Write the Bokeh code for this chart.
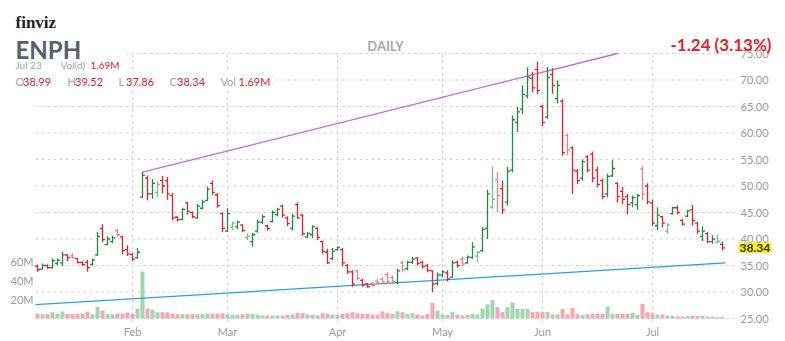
from bokeh.plotting import figure
from bokeh.models import Range1d, ColumnDataSource
from bokeh.embed import file_html
from bokeh.resources import INLINE
from bokeh.core.properties import value

# ---------------- data ----------------
opens = [34.9, 34.3, 35.0, 34.6, 35.4, 35.5, 37.0, 36.8, 36.3, 35.6,
         35.6, 35.2, 37.0, 42.0, 39.0, 39.5, 41.6, 40.4, 38.0, 37.1,
         36.5, 47.9, 51.5, 48.5, 48.8, 51.0, 51.0, 48.2, 44.1, 43.7,
         46.8, 45.0, 44.0, 45.8, 47.3, 50.5, 48.3, 44.8, 41.5, 42.2,
         42.3, 42.6, 40.3, 39.5, 41.5, 43.2, 42.5, 43.3, 44.6, 46.2,
         44.0, 42.0, 46.5, 44.5, 40.4, 40.8, 42.0, 39.5, 37.5, 36.3,
         38.0, 38.0, 35.0, 33.8, 34.0, 32.2, 31.5, 31.6, 32.0, 32.4,
         33.3, 32.8, 31.8, 35.5, 34.4, 35.6, 36.4, 35.6, 35.0, 34.0,
         31.6, 33.2, 33.6, 32.8, 35.6, 36.2, 35.5, 36.5, 36.8, 37.8,
         42.0, 46.0, 51.2, 49.5, 47.0, 53.0, 62.0, 64.5, 67.0, 70.3,
         72.0, 65.0, 63.0, 71.0, 66.5, 66.0, 59.5, 57.2, 52.8, 51.5,
         55.5, 56.0, 53.0, 51.0, 48.5, 51.9, 50.5, 49.0, 48.0, 46.8,
         46.5, 53.2, 50.0, 46.8, 42.5, 44.2, 41.5, 44.8, 45.9, 43.5,
         44.3, 45.5, 43.0, 40.5, 41.0, 39.5, 39.4, 38.99]
highs = [35.2, 35.4, 35.2, 36.3, 36.3, 37.6, 37.1, 37.3, 36.4, 35.8,
         36.1, 36.3, 41.3, 42.8, 40.5, 40.6, 41.9, 40.6, 38.8, 37.4,
         38.3, 52.7, 52.0, 51.3, 50.9, 51.9, 51.7, 48.7, 44.3, 45.9,
         47.0, 45.2, 46.6, 47.4, 49.9, 51.0, 48.7, 45.0, 45.8, 43.3,
         43.5, 42.8, 41.1, 41.2, 43.7, 44.6, 42.7, 45.4, 45.9, 46.5,
         44.3, 44.8, 46.9, 44.7, 41.3, 42.6, 42.2, 39.7, 38.1, 38.3,
         38.6, 38.3, 35.3, 34.1, 34.1, 32.5, 31.7, 31.9, 32.5, 32.8,
         33.7, 33.1, 34.4, 35.9, 35.9, 36.6, 36.6, 35.9, 35.3, 34.1,
         33.7, 34.1, 34.1, 36.0, 35.9, 36.6, 36.9, 39.4, 37.8, 42.2,
         49.3, 53.7, 52.6, 51.0, 53.6, 63.3, 64.9, 69.0, 72.4, 71.5,
         73.5, 65.3, 72.4, 72.2, 69.9, 66.4, 59.9, 57.5, 53.2, 55.0,
         55.8, 56.5, 53.7, 51.4, 52.3, 54.9, 50.7, 49.8, 48.5, 48.2,
         48.5, 53.7, 50.5, 47.4, 46.0, 44.4, 43.0, 46.1, 46.3, 43.8,
         45.5, 46.4, 43.2, 42.4, 41.3, 40.7, 40.8, 39.52]
lows = [33.8, 34.2, 34.4, 34.4, 35.0, 34.9, 35.8, 36.3, 35.4, 34.9,
        33.8, 35.0, 36.8, 39.4, 38.8, 39.2, 40.4, 37.1, 36.8, 35.8,
        36.3, 47.8, 47.3, 47.6, 47.9, 48.6, 47.4, 43.5, 43.3, 43.5,
        44.6, 43.9, 43.8, 45.6, 47.1, 48.3, 45.9, 41.3, 41.3, 41.7,
        41.9, 41.3, 39.8, 38.6, 41.2, 42.8, 41.6, 43.1, 44.3, 44.0,
        42.4, 41.6, 43.8, 40.6, 40.2, 40.2, 39.8, 37.2, 35.3, 36.0,
        37.8, 34.8, 33.4, 31.0, 32.2, 31.0, 30.8, 31.0, 31.5, 31.5,
        31.5, 31.6, 31.5, 33.7, 34.1, 35.3, 35.0, 34.4, 33.7, 30.0,
        31.2, 32.8, 32.0, 32.7, 34.6, 34.8, 35.3, 36.3, 35.6, 37.5,
        40.0, 45.7, 45.1, 44.7, 46.3, 52.6, 60.2, 63.6, 66.5, 67.7,
        67.4, 61.3, 62.7, 67.4, 65.6, 55.7, 55.8, 48.5, 50.4, 51.0,
        52.6, 50.7, 49.8, 47.6, 47.9, 51.7, 46.9, 46.6, 44.6, 46.0,
        45.5, 47.3, 46.6, 42.4, 41.7, 42.2, 41.0, 44.6, 44.6, 42.5,
        44.1, 42.5, 41.0, 39.6, 39.2, 39.1, 39.2, 37.86]
closes = [34.2, 35.0, 34.6, 35.9, 36.0, 37.0, 36.5, 36.5, 35.6, 35.2,
          34.6, 36.0, 40.5, 39.9, 40.0, 40.2, 40.8, 37.8, 37.2, 36.2,
          37.5, 52.0, 48.5, 50.5, 50.3, 50.0, 48.5, 44.0, 43.6, 45.6,
          45.2, 44.2, 46.2, 47.0, 49.4, 48.8, 46.3, 42.0, 44.8, 43.0,
          43.2, 41.6, 40.5, 40.8, 43.2, 44.2, 42.0, 45.0, 45.6, 44.5,
          42.9, 44.3, 44.0, 41.0, 41.0, 42.3, 40.3, 37.6, 35.5, 37.7,
          38.4, 35.5, 33.8, 31.5, 32.6, 31.3, 31.0, 31.2, 31.7, 31.9,
          32.0, 32.0, 34.0, 34.2, 35.6, 36.2, 35.4, 34.8, 34.1, 31.5,
          33.2, 33.8, 32.5, 35.5, 35.0, 35.3, 36.6, 38.5, 37.5, 41.8,
          48.5, 47.5, 48.2, 45.5, 52.8, 62.5, 64.0, 67.3, 70.5, 68.5,
          68.0, 62.0, 70.5, 69.0, 69.0, 56.3, 56.8, 53.0, 51.0, 54.6,
          53.0, 51.5, 50.3, 48.0, 51.8, 53.3, 48.0, 47.5, 46.5, 47.8,
          48.2, 48.5, 47.0, 43.0, 44.5, 43.0, 42.6, 45.9, 45.0, 42.8,
          45.3, 43.5, 41.5, 41.5, 39.5, 40.0, 39.58, 38.34]
volumes_m = [4.9, 4.6, 4.6, 6.7, 4.9, 7.5, 4.9, 4.6, 4.9, 4.9,
             7.2, 4.6, 12.5, 8.4, 4.9, 4.6, 5.3, 5.3, 6.3, 4.9,
             10.2, 49.5, 10.5, 9.5, 6.5, 6.5, 6.5, 4.9, 4.6, 4.6,
             4.6, 4.6, 4.6, 4.6, 5.3, 5.3, 5.3, 5.6, 4.6, 3.9,
             3.9, 4.6, 5.3, 4.9, 4.2, 3.2, 3.2, 3.2, 3.2, 3.2,
             3.9, 4.2, 6.0, 5.6, 4.2, 3.9, 3.2, 5.6, 4.9, 4.2,
             3.9, 4.9, 5.6, 6.7, 5.6, 4.9, 4.9, 4.2, 4.2, 7.4,
             5.6, 4.9, 7.7, 6.7, 4.9, 5.6, 4.2, 3.2, 4.9, 16.5,
             8.4, 4.2, 3.9, 6.7, 4.2, 3.2, 3.9, 4.9, 4.2, 10.5,
             15.0, 19.5, 11.9, 6.7, 11.9, 17.0, 10.0, 10.0, 10.0, 7.0,
             7.0, 7.0, 7.0, 4.0, 4.5, 10.0, 4.5, 11.0, 4.5, 3.5,
             4.5, 5.0, 5.0, 5.0, 12.5, 5.0, 5.0, 5.0, 5.0, 6.0,
             4.0, 15.5, 6.5, 5.5, 4.2, 4.2, 3.2, 2.8, 2.1, 2.1,
             2.5, 3.0, 2.5, 3.0, 2.1, 2.1, 1.5, 1.69]

month_labels = ["Feb", "Mar", "Apr", "May", "Jun", "Jul"]
month_start_index = [19, 38, 60, 81, 101, 123]
price_ticks = [25, 30, 35, 40, 45, 50, 55, 60, 65, 70, 75]
volume_ticks_m = [20, 40, 60]

upper_trend_index = [21, 116]
upper_trend_price = [52.6, 75.0]
lower_trend_index = [-0.4, 137.6]
lower_trend_price = [27.6, 35.5]

ticker_name = "ENPH"
last_date = "Jul 23"
change_text = "-1.24 (3.13%)"

# ---------------- layout / styling ----------------
W, H = 785, 341
BAR_X0, BAR_DX = 37.0, 5.0          # pixel of bar 0, pixels per bar
P_TOP_PX, P_PER = 53.0, 5.3          # pixel of price 75, pixels per 1.00
V_BASE_PX, V_PER = 318.0, 19.0 / 20  # pixel of volume 0, pixels per 1M
FRAME_L_PX, FRAME_R_PX = 35.0, 735.0

FONT = "Lato"
DARK_G, LIGHT_G = "#1f8c3b", "#74c08a"
DARK_R, LIGHT_R = "#e3232f", "#f17c8c"
VOL_G, VOL_R = "#a2d6ae", "#f4a8b3"
GRID = "#d4d4d4"
AXIS_TXT = "#9b9b9b"
GRAY = "#a0a4aa"
RED = "#e2222c"


def px_to_idx(px):
    return (px - BAR_X0) / BAR_DX


def py_to_price(py):
    return price_ticks[-1] - (py - P_TOP_PX) / P_PER


def py_to_vol(py):
    return (V_BASE_PX - py) / V_PER


n = len(closes)
idx = list(range(n))
colors, vcolors = [], []
for i in range(n):
    up = closes[i] >= opens[i]
    prev = closes[i - 1] if i > 0 else opens[i]
    agree = (closes[i] >= prev) == up
    if up:
        colors.append(DARK_G if agree else LIGHT_G)
        vcolors.append(VOL_G)
    else:
        colors.append(DARK_R if agree else LIGHT_R)
        vcolors.append(VOL_R)

src = ColumnDataSource(dict(
    x=idx, xl=[i - 0.5 for i in idx], xr=[i + 0.5 for i in idx],
    o=opens, h=highs, l=lows, c=closes, v=volumes_m,
    color=colors, vcolor=vcolors))

p = figure(width=W, height=H, output_backend="svg", toolbar_location=None,
           x_range=Range1d(px_to_idx(0), px_to_idx(W)),
           y_range=Range1d(py_to_price(H), py_to_price(0)),
           min_border=0, x_axis_type=None, y_axis_type=None)
p.outline_line_color = None
p.xgrid.visible = False
p.ygrid.visible = False
p.background_fill_color = "white"
p.border_fill_color = "white"
p.extra_y_ranges = {"vol": Range1d(py_to_vol(H), py_to_vol(0)),
                    "py": Range1d(H, 0)}
p.extra_x_ranges = {"px": Range1d(0, W)}

xl_frame, xr_frame = px_to_idx(FRAME_L_PX), px_to_idx(FRAME_R_PX)
lo_price, hi_price = price_ticks[0], price_ticks[-1]

# horizontal grid (price ticks)
p.segment(x0=[xl_frame] * len(price_ticks), x1=[xr_frame] * len(price_ticks),
          y0=price_ticks, y1=price_ticks, line_color=GRID, line_dash="3 3", line_width=1)
# vertical grid (month starts)
p.segment(x0=month_start_index, x1=month_start_index,
          y0=[py_to_price(321)] * len(month_start_index), y1=[hi_price] * len(month_start_index),
          line_color=GRID, line_dash="3 3", line_width=1)

# price axis labels (right)
p.text(x=[740] * len(price_ticks), y=price_ticks, text=[f"{t:.2f}" for t in price_ticks],
       x_range_name="px", text_font=value(FONT), text_font_size=value("11px"),
       text_color=AXIS_TXT, text_baseline="middle", text_align="left")
# month labels (bottom)
p.text(x=month_start_index, y=[331] * len(month_start_index), text=month_labels,
       y_range_name="py", text_font=value(FONT), text_font_size=value("11px"),
       text_color=AXIS_TXT, text_baseline="middle", text_align="center")
# volume axis labels (left)
p.text(x=[33] * len(volume_ticks_m), y=volume_ticks_m, text=[f"{v}M" for v in volume_ticks_m],
       x_range_name="px", y_range_name="vol", text_font=value(FONT), text_font_size=value("11px"),
       text_color=AXIS_TXT, text_baseline="middle", text_align="right")

# volume bars
p.vbar(x="x", top="v", bottom=0, width=0.8, fill_color="vcolor", line_color=None,
       y_range_name="vol", source=src)

# trend lines
p.line(upper_trend_index, upper_trend_price, line_color="#c865dc", line_width=1.3)
p.line(lower_trend_index, lower_trend_price, line_color="#2a9fe3", line_width=1.3)

# OHLC bars
p.segment(x0="x", y0="l", x1="x", y1="h", line_color="color", line_width=1.3, source=src)
p.segment(x0="xl", y0="o", x1="x", y1="o", line_color="color", line_width=1.3, source=src)
p.segment(x0="x", y0="c", x1="xr", y1="c", line_color="color", line_width=1.3, source=src)

# last price tag
p.text(x=[738], y=[closes[-1]], text=[f"{closes[-1]:.2f}"], x_range_name="px",
       text_font=value(FONT), text_font_size=value("12px"), text_font_style="bold",
       text_color="#333333", text_baseline="middle", text_align="left",
       background_fill_color="#fff200", padding=1)

# white boxes behind the legend rows
p.quad(left=[12, 12], right=[126, 272], top=[52, 69], bottom=[67, 86],
       x_range_name="px", y_range_name="py", fill_color="white", line_color=None)


def put(cx, cy, text, size, color, style="normal", align="left", font=FONT):
    p.text(x=[cx], y=[cy], text=[text], x_range_name="px", y_range_name="py",
           text_font=value(font), text_font_size=value(size), text_color=color,
           text_font_style=style, text_align=align, text_baseline="alphabetic")


put(15, 64, last_date, "10px", GRAY)
put(60, 64, "Vol(d)", "10px", GRAY)
put(90, 64, f"{volumes_m[-1]:.2f}M", "10px", RED)

row = [("O", 15), ("H", 67), ("L", 118), ("C", 169)]
vals = [opens[-1], highs[-1], lows[-1], closes[-1]]
for (lab, x0), v in zip(row, vals):
    put(x0, 81, lab, "11px", GRAY)
    put(x0 + 7.5, 81, f"{v:.2f}", "11px", RED)
put(220, 81, "Vol", "11px", GRAY)
put(238, 81, f"{volumes_m[-1]:.2f}M", "11px", RED)

put(15, 22, "finviz", "17px", "#222222", "bold", font="Liberation Serif")
put(15, 49, ticker_name, "24px", "#56606f", "bold")
put(385, 45, "DAILY", "13px", "#a3a8b0", "bold", align="center")
put(771, 44, change_text, "17px", RED, "bold", align="right")

open("out.html", "w").write(file_html(p, INLINE))
